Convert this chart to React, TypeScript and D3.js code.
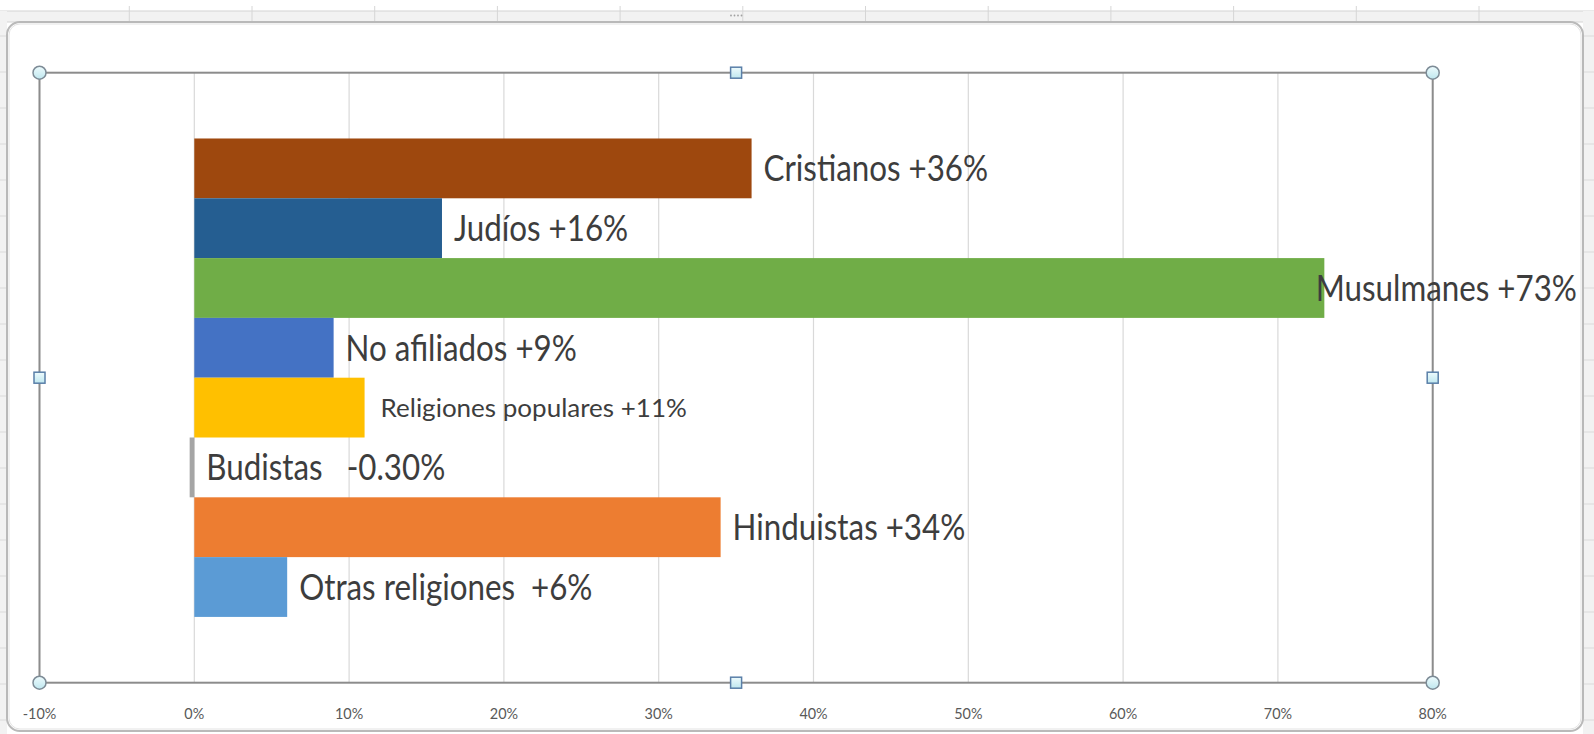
import React from 'react';
import * as d3 from 'd3';

const categories = ['Cristianos', 'Judíos', 'Musulmanes', 'No afiliados', 'Religiones populares', 'Budistas', 'Hinduistas', 'Otras religiones'];
const values = [0.36, 0.16, 0.73, 0.09, 0.11, -0.003, 0.34, 0.06];
const labels = ['Cristianos +36%', 'Judíos +16%', 'Musulmanes +73%', 'No afiliados +9%', 'Religiones populares +11%', 'Budistas   -0.30%', 'Hinduistas +34%', 'Otras religiones  +6%'];
const colors = ['#9E480E', '#255E91', '#70AD47', '#4472C4', '#FFC000', '#A5A5A5', '#ED7D31', '#5B9BD5'];
const smallLabel = [false, false, false, false, true, false, false, false];
const tickValues = [-0.1, 0, 0.1, 0.2, 0.3, 0.4, 0.5, 0.6, 0.7, 0.8];

const W = 1594;
const H = 734;
const plot = { left: 39.5, right: 1432.7, top: 72.7, bottom: 682.7 };
const chartArea = { left: 7, top: 22, right: 1583, bottom: 731 };
const FONT = 'Lato, "Open Sans", sans-serif';
const BIG = { size: 36, sx: 0.87, gap: 12 };
const SMALL = { size: 25, sx: 1.04, gap: 16 };

let ctx: CanvasRenderingContext2D | null = null;
function measure(text: string, size: number) {
  if (!ctx) ctx = document.createElement('canvas').getContext('2d');
  if (!ctx) return text.length * size * 0.5;
  ctx.font = `${size}px Lato`;
  return ctx.measureText(text).width;
}

export default function App() {
  const x = d3.scaleLinear().domain([-0.1, 0.8]).range([plot.left, plot.right]);
  const y = d3.scaleBand<string>().domain(categories).range([plot.top, plot.bottom]).paddingInner(0).paddingOuter(1.1);
  const fmt = (t: number) => d3.format('.0%')(t).replace('\u2212', '-');
  const colLines = d3.range(129.3, W, 122.7);
  const rowLines = d3.range(36, H, 36);

  const handle = (cx: number, cy: number, round: boolean, key: string) =>
    round ? (
      <circle key={key} cx={cx} cy={cy} r={6.5} fill="url(#hg)" stroke="#7d8b96" strokeWidth={1.5} />
    ) : (
      <rect key={key} x={cx - 5.5} y={cy - 5.5} width={11} height={11} fill="url(#hg)" stroke="#5a7fa8" strokeWidth={1.5} />
    );
  const mx = (plot.left + plot.right) / 2;
  const my = (plot.top + plot.bottom) / 2;

  return (
    <svg width={W} height={H} style={{ position: 'absolute', left: 0, top: 0, background: '#fff' }}>
      <defs>
        <linearGradient id="hg" x1="0" y1="0" x2="0" y2="1">
          <stop offset="0" stopColor="#eefbfd" />
          <stop offset="1" stopColor="#bfe7ef" />
        </linearGradient>
      </defs>
      {/* spreadsheet background */}
      <rect x={0} y={11} width={W} height={11} fill="#f2f2f2" stroke="#d4d4d4" />
      {colLines.map((cx, i) => (
        <line key={'c' + i} x1={cx} x2={cx} y1={6} y2={22} stroke="#d6d6d6" />
      ))}
      <rect x={0} y={11} width={chartArea.left} height={H} fill="#f2f2f2" />
      <rect x={chartArea.right} y={11} width={W - chartArea.right} height={H} fill="#f2f2f2" />
      {rowLines.map((ry, i) => (
        <g key={'r' + i}>
          <line x1={0} x2={chartArea.left} y1={ry} y2={ry} stroke="#dadada" />
          <line x1={chartArea.right} x2={W} y1={ry} y2={ry} stroke="#dadada" />
        </g>
      ))}
      {[0, 1, 2, 3].map((i) => (
        <circle key={'g' + i} cx={731 + i * 3.5} cy={15.5} r={0.9} fill="#a0a0a0" />
      ))}
      {/* chart area */}
      <rect
        x={chartArea.left}
        y={chartArea.top}
        width={chartArea.right - chartArea.left}
        height={chartArea.bottom - chartArea.top}
        rx={13}
        fill="#ffffff"
        stroke="#b9b9b9"
        strokeWidth={2}
      />
      <rect
        x={chartArea.left + 2}
        y={chartArea.top + 2}
        width={chartArea.right - chartArea.left - 4}
        height={chartArea.bottom - chartArea.top - 4}
        rx={11}
        fill="none"
        stroke="#e3e3e3"
        strokeWidth={1}
      />
      {/* gridlines */}
      {tickValues.map((t) => (
        <line key={'gl' + t} x1={x(t)} x2={x(t)} y1={plot.top} y2={plot.bottom} stroke="#d9d9d9" strokeWidth={1.2} />
      ))}
      {/* bars */}
      {categories.map((c, i) => {
        const v = values[i];
        const x0 = Math.min(x(0), x(v));
        const w = Math.abs(x(v) - x(0));
        return <rect key={'b' + c} x={x0} y={y(c)} width={w} height={y.bandwidth()} fill={colors[i]} />;
      })}
      {/* plot border (selected) */}
      <rect
        x={plot.left}
        y={plot.top}
        width={plot.right - plot.left}
        height={plot.bottom - plot.top}
        fill="none"
        stroke="#8c8c8c"
        strokeWidth={2}
      />
      {/* labels */}
      {categories.map((c, i) => {
        const f = smallLabel[i] ? SMALL : BIG;
        const tw = measure(labels[i], f.size) * f.sx;
        let lx = Math.max(x(values[i]), x(0)) + f.gap;
        const limit = chartArea.right - 6;
        if (lx + tw > limit) lx = limit - tw;
        const cy = (y(c) as number) + y.bandwidth() / 2;
        const ty = cy + f.size * 0.36;
        return (
          <text
            key={'l' + c}
            transform={`translate(${lx},${ty}) scale(${f.sx},1)`}
            fontFamily={FONT}
            fontSize={f.size}
            fill="#3d3d3d"
            style={{ whiteSpace: 'pre' }}
          >
            {labels[i]}
          </text>
        );
      })}
      {/* axis tick labels */}
      {tickValues.map((t) => (
        <text
          key={'t' + t}
          transform={`translate(${x(t)},719) scale(0.9,1)`}
          textAnchor="middle"
          fontFamily={FONT}
          fontSize={16}
          fill="#595959"
        >
          {fmt(t)}
        </text>
      ))}
      {/* selection handles */}
      {handle(plot.left, plot.top, true, 'h1')}
      {handle(plot.right, plot.top, true, 'h2')}
      {handle(plot.left, plot.bottom, true, 'h3')}
      {handle(plot.right, plot.bottom, true, 'h4')}
      {handle(mx, plot.top, false, 'h5')}
      {handle(mx, plot.bottom, false, 'h6')}
      {handle(plot.left, my, false, 'h7')}
      {handle(plot.right, my, false, 'h8')}
    </svg>
  );
}
